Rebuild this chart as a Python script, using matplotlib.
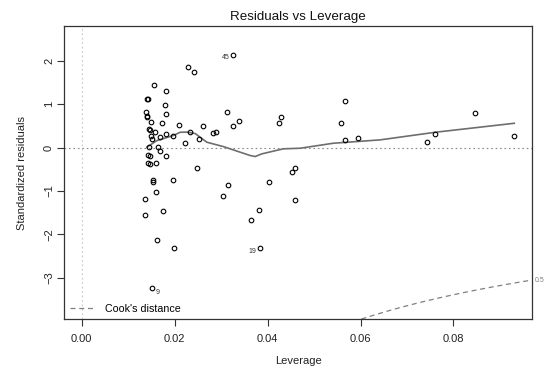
import numpy as np
import matplotlib.pyplot as plt

plt.rcParams['font.family'] = ['Liberation Sans', 'DejaVu Sans']

# hat values and standardized residuals of the fitted model
leverage = np.array([
    0.03244, 0.02291, 0.02405, 0.01559, 0.01811, 0.01402, 0.01423, 0.01785,
    0.01811, 0.01376, 0.01397, 0.01402, 0.01494, 0.01737, 0.02103, 0.02614,
    0.03124, 0.03378, 0.03259, 0.01440, 0.01473, 0.01580, 0.01806, 0.02334,
    0.02829, 0.02893, 0.01488, 0.01694, 0.01968, 0.02527, 0.01516, 0.02226,
    0.01445, 0.01645, 0.01688, 0.01419, 0.01462, 0.01811, 0.01419, 0.01466,
    0.01602, 0.02484, 0.01522, 0.01522, 0.01953, 0.01587, 0.01371, 0.01746,
    0.01371, 0.01623, 0.01989, 0.01516, 0.03141, 0.03048, 0.05671, 0.04286,
    0.04243, 0.05578, 0.05671, 0.05951, 0.04594, 0.04523, 0.04019, 0.04594,
    0.03813, 0.03647, 0.03826, 0.08454, 0.07602, 0.07421, 0.09309,
])
std_resid = np.array([
    2.131, 1.855, 1.747, 1.432, 1.310, 1.110, 1.110, 0.989,
    0.766, 0.828, 0.736, 0.697, 0.598, 0.575, 0.522, 0.499,
    0.821, 0.621, 0.499, 0.421, 0.414, 0.368, 0.322, 0.368,
    0.329, 0.368, 0.276, 0.253, 0.276, 0.207, 0.191, 0.108,
    0.007, 0.011, -0.069, -0.168, -0.184, -0.184, -0.361, -0.384,
    -0.361, -0.460, -0.759, -0.805, -0.759, -1.028, -1.195, -1.464,
    -1.563, -2.126, -2.322, -3.241, -0.874, -1.120, 1.064, 0.697,
    0.575, 0.575, 0.184, 0.230, -0.471, -0.552, -0.805, -1.218,
    -1.441, -1.662, -2.322, 0.789, 0.315, 0.131, 0.276,
])

# observations flagged with their row names
label_names = ['45', '19', '9']
label_index = [0, 66, 51]
label_offsets = [(-2.4, -1.6), (-2.3, -2.6), (2.4, -3.0)]
label_align = ['right', 'right', 'left']

# lowess smooth of residuals against leverage
smooth_lev = np.array([0.01401, 0.01617, 0.01968, 0.02118, 0.02263, 0.02441,
                       0.02693, 0.03044, 0.03625, 0.03733, 0.03877, 0.04336,
                       0.04702, 0.05413, 0.06425, 0.07609, 0.09309])
smooth_res = np.array([0.007, 0.161, 0.276, 0.352, 0.356, 0.322,
                       0.122, 0.023, -0.184, -0.207, -0.145, -0.030,
                       -0.016, 0.099, 0.177, 0.352, 0.559])

# Cook's distance contour
cook_level = 0.5
n_params = 2

fig = plt.figure(figsize=(5.47, 3.75), dpi=100)
ax = fig.add_axes([0.1179, 0.1493, 0.8539, 0.7814])

xlim = (-0.04 * leverage.max(), 1.04 * leverage.max())
ax.set_xlim(xlim)
ax.set_ylim(-3.95, 2.80)

ax.axhline(0, color='#8a8a8a', lw=0.8, ls=(0, (1.5, 2.5)), zorder=1)
ax.axvline(0, color='#c8c8c8', lw=0.8, ls=(0, (1.5, 2.5)), zorder=1)

ax.plot(leverage, std_resid, 'o', ms=3.3, mfc='none', mec='black', mew=0.8, zorder=3)
ax.plot(smooth_lev, smooth_res, color='#6e6e6e', lw=1.2, zorder=2)

hh = np.linspace(0.01, xlim[1], 101)
cook_r = np.sqrt(cook_level * n_params * (1 - hh) / hh)
ax.plot(hh, -cook_r, color='#808080', lw=0.9, ls=(0, (4, 3)), label="Cook's distance")
ax.plot(hh, cook_r, color='#808080', lw=0.9, ls=(0, (4, 3)))
ax.annotate(str(cook_level), (xlim[1], -cook_r[-1]), xytext=(2, 0),
            textcoords='offset points', ha='left', va='center',
            fontsize=5, color='#808080', annotation_clip=False)

for name, idx, off, ha in zip(label_names, label_index, label_offsets, label_align):
    ax.annotate(name, (leverage[idx], std_resid[idx]), xytext=off,
                textcoords='offset points', ha=ha, va='center',
                fontsize=5, color='#333333')

ax.set_xticks([0.00, 0.02, 0.04, 0.06, 0.08])
ax.set_xticklabels(['0.00', '0.02', '0.04', '0.06', '0.08'])
ax.set_yticks([-3, -2, -1, 0, 1, 2])
ax.tick_params(axis='both', direction='out', length=5, width=0.8,
               color='#333333', labelsize=8, labelcolor='#222222')
ax.tick_params(axis='x', pad=5.5)
ax.tick_params(axis='y', pad=2.5)
for lab in ax.get_yticklabels():
    lab.set_rotation(90)
    lab.set_va('center')

for sp in ax.spines.values():
    sp.set_color('#333333')
    sp.set_linewidth(0.9)

ax.set_title('Residuals vs Leverage', fontsize=9.6, pad=4.3, color='#111111')
ax.set_xlabel('Leverage', fontsize=8, labelpad=9, color='#222222')
ax.set_ylabel('Standardized residuals', fontsize=8, labelpad=12, color='#222222')

ax.legend(loc='lower left', frameon=False, fontsize=7.7, handlelength=2.4,
          borderaxespad=0.1, handletextpad=0.9)

fig.savefig('out.png', dpi=100)
